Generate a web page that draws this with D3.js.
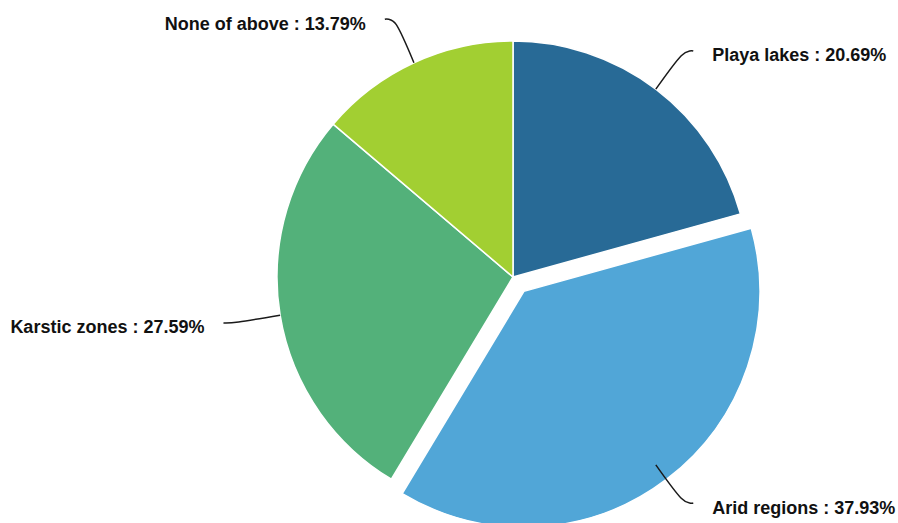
<!DOCTYPE html>
<html>
<head>
<meta charset="utf-8">
<script src="https://cdn.jsdelivr.net/npm/d3@7"></script>
<style>
  html, body { margin: 0; padding: 0; background: #fff; }
</style>
</head>
<body>
<script>
const categories = ["Playa lakes", "Arid regions", "Karstic zones", "None of above"];
const values = [20.69, 37.93, 27.59, 13.79];
const colors = ["#286a96", "#51a6d7", "#53b17a", "#a2cf32"];
const exploded = ["Arid regions"];

const w = 898, h = 523;
const cx = 513, cy = 277, R = 236;
const offset = 18;

const svg = d3.select("body").append("svg").attr("width", w).attr("height", h);

const data = categories.map((c, i) => { return { name: c, value: values[i], color: colors[i] }; });

const pie = d3.pie().sort(null).value((d) => d.value);
const arcs = pie(data);
const arc = d3.arc().innerRadius(0).outerRadius(R);

const g = svg.append("g").attr("transform", "translate(" + cx + "," + cy + ")");

// slices
g.selectAll("path.slice")
  .data(arcs)
  .enter().append("path")
  .attr("class", "slice")
  .attr("d", arc)
  .attr("fill", (d) => d.data.color)
  .attr("stroke", "#fff")
  .attr("stroke-width", 1.5)
  .attr("transform", (d) => {
    if (exploded.indexOf(d.data.name) < 0) return null;
    let a = (d.startAngle + d.endAngle) / 2;
    return "translate(" + offset * Math.sin(a) + "," + (-offset * Math.cos(a)) + ")";
  });

// leader lines (start at the un-exploded edge, like the original)
const leader = d3.line().curve(d3.curveCardinal);
const geom = arcs.map((d) => {
  let a = (d.startAngle + d.endAngle) / 2;
  let ux = Math.sin(a), uy = -Math.cos(a);
  let p0 = [R * ux, R * uy];
  let p1 = [(R + 42) * ux, (R + 42) * uy];
  let sx = ux >= 0 ? 1 : -1;
  let hook = 11 + 5 * (1 - Math.abs(uy));
  let p2 = [p1[0] + sx * hook, p1[1] + uy * 6];
  return { d: d, pts: [p0, p1, p2], sx: sx };
});

g.selectAll("path.leader")
  .data(geom)
  .enter().append("path")
  .attr("class", "leader")
  .attr("d", (d) => leader(d.pts))
  .attr("fill", "none")
  .attr("stroke", "#1a1a1a")
  .attr("stroke-width", 1.5);

g.selectAll("text.label")
  .data(geom)
  .enter().append("text")
  .attr("class", "label")
  .attr("x", (d) => d.pts[2][0] + d.sx * 19)
  .attr("y", (d) => d.pts[2][1] + 10.5)
  .attr("text-anchor", (d) => d.sx > 0 ? "start" : "end")
  .attr("font-family", "'Liberation Sans', Arial, sans-serif")
  .attr("font-weight", "bold")
  .attr("font-size", "18px")
  .attr("fill", "#111")
  .text((d) => d.d.data.name + " : " + d.d.data.value.toFixed(2) + "%");
</script>
</body>
</html>
